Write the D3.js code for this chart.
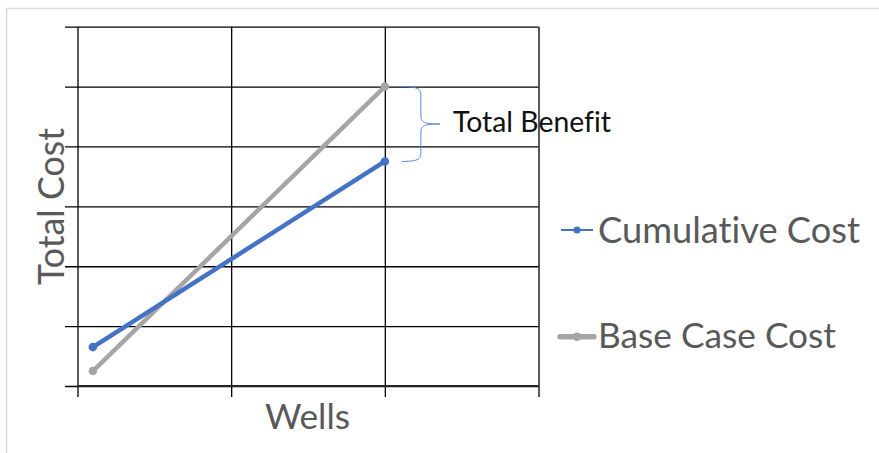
<!DOCTYPE html>
<html>
<head>
<meta charset="utf-8">
<script src="https://cdn.jsdelivr.net/npm/d3@7/dist/d3.min.js"></script>
<style>
  html, body { margin: 0; padding: 0; background: #fff; }
  svg { display: block; }
  text { font-family: Lato, "Open Sans", sans-serif; font-variant-ligatures: none; }
</style>
</head>
<body>
<svg id="chart" width="879" height="453"></svg>
<script>
// Series: two points each (wells on x, total cost on y)
const seriesNames = ["Cumulative Cost", "Base Case Cost"];
const wells = [0.1, 2];
const cumulativeCost = [0.65, 3.75];
const baseCaseCost = [0.25, 5];
const xTicks = [0, 1, 2, 3];
const yTicks = [0, 1, 2, 3, 4, 5, 6];
const xTitle = "Wells";
const yTitle = "Total Cost";
const annotation = "Total Benefit";

const colors = { "Cumulative Cost": "#4472C4", "Base Case Cost": "#A5A5A5" };
const textGray = "#595959";

const svg = d3.select("#chart");
const plot = { left: 77.5, right: 538.5, top: 26.7, bottom: 386 };

const x = d3.scaleLinear().domain([0, 3]).range([plot.left, plot.right]);
const y = d3.scaleLinear().domain([0, 6]).range([plot.bottom, plot.top]);

// chart area frame
svg.append("rect")
  .attr("x", 6.5).attr("y", 8.5).attr("width", 1000).attr("height", 1000)
  .attr("fill", "#fff").attr("stroke", "#d9d9d9").attr("stroke-width", 1.5);

// horizontal gridlines, extended left as tick marks
svg.append("g")
  .attr("transform", `translate(${plot.left},0)`)
  .call(d3.axisLeft(y).tickValues(yTicks).tickFormat("")
    .tickSizeInner(-(plot.right - plot.left)).tickSizeOuter(0))
  .call(g => g.select(".domain").remove())
  .call(g => g.selectAll(".tick line")
    .attr("x1", -12.5).attr("x2", plot.right - plot.left)
    .attr("stroke", "#000").attr("stroke-width", 1.3));

// vertical gridlines, extended below as tick marks
svg.append("g")
  .attr("transform", `translate(0,${plot.bottom})`)
  .call(d3.axisBottom(x).tickValues(xTicks).tickFormat("")
    .tickSizeInner(0).tickSizeOuter(0))
  .call(g => g.select(".domain").remove())
  .call(g => g.selectAll(".tick line")
    .attr("y1", -(plot.bottom - plot.top)).attr("y2", 11)
    .attr("stroke", "#000").attr("stroke-width", 1.3));

// horizontal axis line
svg.append("line")
  .attr("x1", plot.left).attr("x2", plot.right)
  .attr("y1", y(0)).attr("y2", y(0))
  .attr("stroke", "#262626").attr("stroke-width", 1.8);

// data lines and markers
const series = [
  { name: seriesNames[0], values: cumulativeCost },
  { name: seriesNames[1], values: baseCaseCost }
];
const line = d3.line().x(d => x(d[0])).y(d => y(d[1]));

series.slice().reverse().forEach(s => {
  const pts = wells.map((w, i) => [w, s.values[i]]);
  svg.append("path")
    .datum(pts)
    .attr("d", line)
    .attr("fill", "none")
    .attr("stroke", colors[s.name])
    .attr("stroke-width", 4.5)
    .attr("stroke-linecap", "round");
  svg.selectAll(null)
    .data(pts)
    .enter().append("circle")
    .attr("cx", d => x(d[0])).attr("cy", d => y(d[1]))
    .attr("r", 4.3)
    .attr("fill", colors[s.name]);
});

// Brace spanning the gap between the two series at the last point
const bx = x(wells[1]) + 17;
const yTop = y(baseCaseCost[1]);
const yBot = y(cumulativeCost[1]);
const yMid = (yTop + yBot) / 2;
const bw = 19, tip = 19, r = 8;
const brace = d3.path();
brace.moveTo(bx, yTop);
brace.bezierCurveTo(bx + bw * 0.8, yTop, bx + bw, yTop + 2, bx + bw, yTop + r);
brace.lineTo(bx + bw, yMid - r);
brace.bezierCurveTo(bx + bw, yMid - 2, bx + bw + 3, yMid, bx + bw + tip, yMid);
brace.moveTo(bx + bw + tip, yMid);
brace.bezierCurveTo(bx + bw + 3, yMid, bx + bw, yMid + 2, bx + bw, yMid + r);
brace.lineTo(bx + bw, yBot - r);
brace.bezierCurveTo(bx + bw, yBot - 2, bx + bw * 0.8, yBot, bx, yBot);
svg.append("path")
  .attr("d", brace.toString())
  .attr("fill", "none")
  .attr("stroke", "#5b86d6")
  .attr("stroke-width", 1);

// text helper: size the text so it spans a given width
function fitText(sel, width) {
  sel.attr("font-size", 100);
  const len = sel.node().getComputedTextLength();
  sel.attr("font-size", 100 * width / len);
  return sel;
}

fitText(svg.append("text")
  .attr("x", 453).attr("y", 132)
  .attr("fill", "#111")
  .text(annotation), 158);

// axis titles
fitText(svg.append("text")
  .attr("transform", `translate(64,${206.5}) rotate(-90)`)
  .attr("text-anchor", "middle")
  .attr("fill", textGray)
  .text(yTitle), 157);

fitText(svg.append("text")
  .attr("x", 307.5).attr("y", 429)
  .attr("text-anchor", "middle")
  .attr("fill", textGray)
  .text(xTitle), 85);

// legend
const legendRows = [
  { name: seriesNames[0], y: 230, lw: 2, r: 3.6, x1: 561, x2: 593, tw: 262, base: 243 },
  { name: seriesNames[1], y: 336.7, lw: 5.5, r: 4.3, x1: 560, x2: 594, tw: 238, base: 348 }
];
legendRows.forEach(row => {
  svg.append("line")
    .attr("x1", row.x1).attr("x2", row.x2)
    .attr("y1", row.y).attr("y2", row.y)
    .attr("stroke", colors[row.name])
    .attr("stroke-width", row.lw)
    .attr("stroke-linecap", row.lw > 3 ? "round" : "butt");
  svg.append("circle")
    .attr("cx", (row.x1 + row.x2) / 2).attr("cy", row.y)
    .attr("r", row.r).attr("fill", colors[row.name]);
  fitText(svg.append("text")
    .attr("x", 598).attr("y", row.base)
    .attr("fill", textGray)
    .text(row.name), row.tw);
});
</script>
</body>
</html>
